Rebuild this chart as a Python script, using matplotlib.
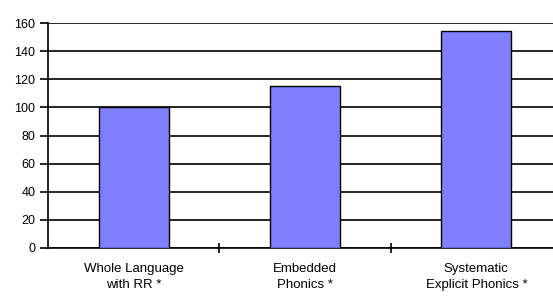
import matplotlib
matplotlib.use('Agg')
import matplotlib.pyplot as plt

categories = ['Whole Language\nwith RR *', 'Embedded\nPhonics *', 'Systematic\nExplicit Phonics *']
values = [100, 115, 154]
yticks = [0, 20, 40, 60, 80, 100, 120, 140, 160]

plt.rcParams['font.family'] = ['Liberation Sans', 'DejaVu Sans']

fig = plt.figure(figsize=(5.53, 2.98), dpi=100)
ax = fig.add_axes([48 / 553, 1 - 248 / 298, 514 / 553, 225 / 298])

ax.bar(range(len(values)), values, width=0.41, color='#8080FF',
       edgecolor='black', linewidth=1.0, zorder=3)

ax.set_xlim(-0.5, 2.5)
ax.set_ylim(0, 160)
ax.set_yticks(yticks)
ax.yaxis.grid(True, color='black', linewidth=1.2, zorder=0)

# category labels centred, tick marks on the boundaries
ax.set_xticks(range(len(categories)))
ax.set_xticklabels(categories, fontsize=9.5, linespacing=1.45)
ax.tick_params(axis='x', length=0, pad=11)
ax.set_xticks([0.5, 1.5], minor=True)
ax.tick_params(axis='x', which='minor', direction='inout', length=7, width=1.2)
ax.tick_params(axis='y', direction='out', length=6, width=1.2, labelsize=9, pad=3)

for s in ['top', 'right']:
    ax.spines[s].set_visible(False)
ax.spines['left'].set_linewidth(1.2)
ax.spines['bottom'].set_linewidth(1.2)

fig.savefig('out.png', dpi=100)
